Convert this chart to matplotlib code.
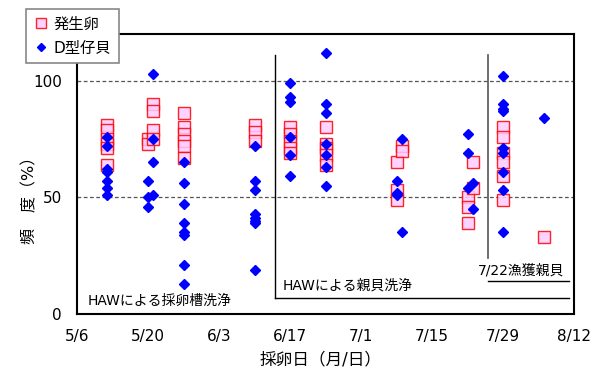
import matplotlib.pyplot as plt
import pandas as pd

plt.rcParams['font.family'] = ['DejaVu Sans', 'Noto Sans CJK JP']

# 発生卵 (squares)
egg_dates = ["5/12", "5/20", "5/21", "5/27", "6/10", "6/17", "6/24",
             "7/8", "7/9", "7/22", "7/23", "7/29", "8/6"]
egg_values = [[81, 79, 75, 73, 71, 64], [75, 73], [90, 87, 79, 75],
              [86, 80, 77, 74, 72, 67], [81, 78, 74], [80, 77, 74, 71, 69],
              [80, 73, 71, 68, 64], [65, 53, 49], [72, 70], [50, 46, 39],
              [65, 54], [80, 76, 69, 65, 59, 49], [33]]

# D型仔貝 (diamonds)
larva_dates = ["5/12", "5/20", "5/21", "5/27", "6/10", "6/17", "6/24",
               "7/8", "7/9", "7/22", "7/23", "7/29", "8/6"]
larva_values = [[76, 72, 62, 61, 57, 54, 51], [57, 50, 46], [103, 75, 65, 51],
                [65, 56, 47, 39, 35, 34, 21, 13], [72, 57, 53, 43, 41, 40, 39, 19],
                [99, 93, 91, 76, 68, 59], [112, 90, 86, 73, 68, 63, 55],
                [57, 52, 51], [75, 35], [77, 69, 54], [56, 45],
                [102, 90, 88, 87, 71, 69, 61, 53, 35], [84]]

tick_labels = ["5/6", "5/20", "6/3", "6/17", "7/1", "7/15", "7/29", "8/12"]


def to_date(s):
    return pd.to_datetime("2020/" + s)


def flatten(dates, values):
    xs, ys = [], []
    for d, vals in zip(dates, values):
        for v in vals:
            xs.append(to_date(d))
            ys.append(v)
    return xs, ys


fig = plt.figure(figsize=(5.93, 3.72), dpi=100)
ax = fig.add_axes([77 / 593, 58 / 372, 497 / 593, 280 / 372])

ex, ey = flatten(egg_dates, egg_values)
lx, ly = flatten(larva_dates, larva_values)
ax.plot(ex, ey, ls='none', marker='s', ms=8.5, mfc='#ffccff', mec='red',
        mew=1.0, alpha=0.85, label='発生卵', zorder=3)
ax.plot(lx, ly, ls='none', marker='D', ms=5.6, color='blue', mec='blue',
        label='D型仔貝', zorder=4)

# dashed reference lines
for yv in [50, 100]:
    ax.axhline(yv, color='#555555', ls=(0, (3, 2)), lw=0.9, zorder=1)

# period markers
ax.plot([to_date("6/14")] * 2, [111, 7], color='black', lw=1)
ax.plot([to_date("6/14"), to_date("8/11")], [7, 7], color='black', lw=1)
ax.plot([to_date("7/26")] * 2, [111, 24], color='#555555', lw=1.2)
ax.plot([to_date("7/26"), to_date("8/11")], [14, 14], color='black', lw=1)

ax.text(to_date("5/8"), 5.5, 'HAWによる採卵槽洗浄', fontsize=10, va='center')
ax.text(to_date("6/15") + pd.Timedelta(hours=12), 12.3, 'HAWによる親貝洗浄',
        fontsize=10, va='center')
ax.text(to_date("8/10"), 18.8, '7/22漁獲親貝', fontsize=10, va='center',
        ha='right')

ax.set_xlim(to_date("5/6"), to_date("8/12"))
ax.set_ylim(0, 120)
ax.set_xticks([to_date(t) for t in tick_labels])
ax.set_xticklabels(tick_labels)
ax.set_yticks([0, 50, 100])
ax.tick_params(length=0, labelsize=11, pad=11)
for s in ax.spines.values():
    s.set_linewidth(1.5)

ax.set_xlabel('採卵日（月/日）', fontsize=12)
ax.xaxis.set_label_coords(0.49, -0.13)
ax.set_ylabel('頻　度（%）', fontsize=11.5)
ax.yaxis.set_label_coords(-0.08, 0.42)

leg = ax.legend(loc='upper left', bbox_to_anchor=(26 / 593, 1 - 9 / 372),
                bbox_transform=fig.transFigure, fancybox=False,
                edgecolor='#888888', fontsize=11, handlelength=1.0,
                handletextpad=0.3, labelspacing=0.6, borderpad=0.5,
                borderaxespad=0, markerscale=0.8, framealpha=1)
leg.get_frame().set_linewidth(1.2)

plt.savefig('out.png')
